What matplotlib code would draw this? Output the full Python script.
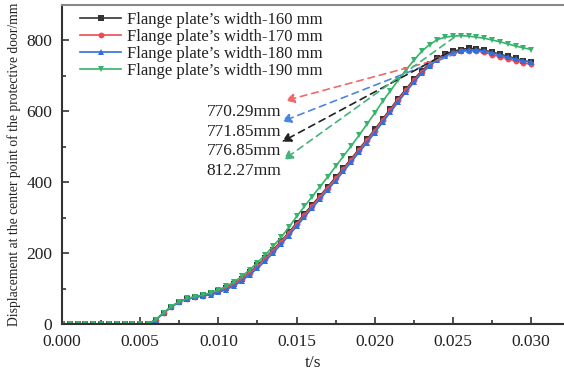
import numpy as np
import matplotlib
matplotlib.use("Agg")
import matplotlib.pyplot as plt
from matplotlib.ticker import MultipleLocator

plt.rcParams["font.family"] = ["Liberation Serif", "DejaVu Serif"]

# time axis, one sample every 0.5 ms
t = np.round(np.arange(0, 0.03001, 0.0005), 4)

zeros = [0] * 12  # 0 .. 0.0055 s
w160 = zeros + [12, 31, 49, 63, 71, 76, 81, 86, 93, 102, 114, 128, 146, 165, 186, 209,
                233, 258, 284, 310, 336, 361, 387, 413, 439, 466, 493, 520, 548, 577,
                606, 635, 662, 689, 713, 733, 749, 760, 768, 773, 776.85, 775, 771, 766,
                760, 754, 748, 742, 737]
w170 = zeros + [12, 31, 49, 63, 71, 76, 80, 85, 92, 101, 113, 127, 144, 163, 184, 207,
                231, 256, 281, 307, 333, 358, 384, 410, 436, 463, 490, 517, 545, 574,
                603, 632, 659, 686, 710, 730, 746, 757, 764, 768, 770.29, 769, 765, 759,
                753, 747, 741, 736, 731]
w180 = zeros + [12, 31, 48, 62, 70, 75, 79, 83, 89, 97, 108, 122, 139, 157, 178, 200,
                224, 249, 275, 301, 327, 352, 378, 404, 430, 457, 484, 511, 539, 568,
                597, 626, 654, 681, 706, 727, 744, 756, 764, 769, 771, 771.85, 769, 764,
                758, 752, 746, 742, 738]
w190 = zeros + [12, 32, 49, 63, 72, 77, 82, 88, 96, 106, 119, 134, 153, 173, 195, 219,
                244, 272, 303, 331, 359, 387, 415, 444, 473, 502, 532, 563, 594, 627,
                657, 687, 716, 743, 768, 787, 801, 808, 811, 812.27, 811, 808, 805, 800,
                795, 789, 783, 778, 773]

series = [
    ("Flange plate\u2019s width-160 mm", w160, "#333333", "s"),
    ("Flange plate\u2019s width-170 mm", w170, "#ee4a55", "o"),
    ("Flange plate\u2019s width-180 mm", w180, "#2f6fdc", "^"),
    ("Flange plate\u2019s width-190 mm", w190, "#36b36c", "v"),
]

# peak annotations: text, colour, arrow tail on the curve, arrow head, text y
peak_labels = ["770.29mm", "771.85mm", "776.85mm", "812.27mm"]
peak_colors = ["#f06a6a", "#4a86e0", "#222222", "#45b27a"]
tails = [(0.0243, 748), (0.0252, 762), (0.0247, 765), (0.0251, 808)]
heads = [(0.01427, 629), (0.01405, 570), (0.01405, 513), (0.01416, 462)]
text_y = [598, 542, 487, 432]

FS = 12.5

fig = plt.figure(figsize=(5.64, 3.73), dpi=100)
ax = fig.add_axes([62 / 564, 49 / 373, 502 / 564, 319.5 / 373])

for lbl, y, c, m in series:
    ax.plot(t, y, color=c, marker=m, ms=4.2, lw=1.2, mew=0, label=lbl)

for s, c, (x0, y0), (x1, y1), ty in zip(peak_labels, peak_colors, tails, heads, text_y):
    ax.annotate("", xy=(x1, y1), xytext=(x0, y0),
                arrowprops=dict(arrowstyle="-|>,head_length=0.55,head_width=0.28",
                                color=c, lw=1.2, ls=(0, (4, 3)),
                                shrinkA=0, shrinkB=0))
    ax.text(0.00925, ty, s, fontsize=FS, color="#222222", va="center", ha="left")

ax.set_xlim(0, 0.0321)
ax.set_ylim(0, 900)
ax.xaxis.set_major_locator(MultipleLocator(0.005))
ax.xaxis.set_minor_locator(MultipleLocator(0.0025))
ax.yaxis.set_major_locator(MultipleLocator(200))
ax.yaxis.set_minor_locator(MultipleLocator(100))
ax.xaxis.set_major_formatter(matplotlib.ticker.FormatStrFormatter("%.3f"))
ax.tick_params(which="both", direction="in", color="#333333", labelsize=FS,
               labelcolor="#222222")
ax.tick_params(which="major", length=5, width=1.2)
ax.tick_params(which="minor", length=3, width=1.2)
ax.tick_params(axis="x", pad=7)
ax.tick_params(axis="y", pad=7)
ax.spines["right"].set_visible(False)
for sp in ("left", "bottom"):
    ax.spines[sp].set_color("#333333")
    ax.spines[sp].set_linewidth(1.5)
ax.spines["top"].set_color("#888888")
ax.spines["top"].set_linewidth(1.5)

ax.set_xlabel("t/s", fontsize=FS, color="#222222", labelpad=4)
ax.set_ylabel("Displacement at the center point of the protective door/mm",
              fontsize=9.8, color="#222222", labelpad=4)

ax.legend(loc="upper left", bbox_to_anchor=(0.012, 1.012), frameon=False,
          fontsize=12, handlelength=2.5, handletextpad=0.35, labelspacing=0.05,
          borderaxespad=0.3, labelcolor="#222222")

fig.savefig("out.png", dpi=100)
